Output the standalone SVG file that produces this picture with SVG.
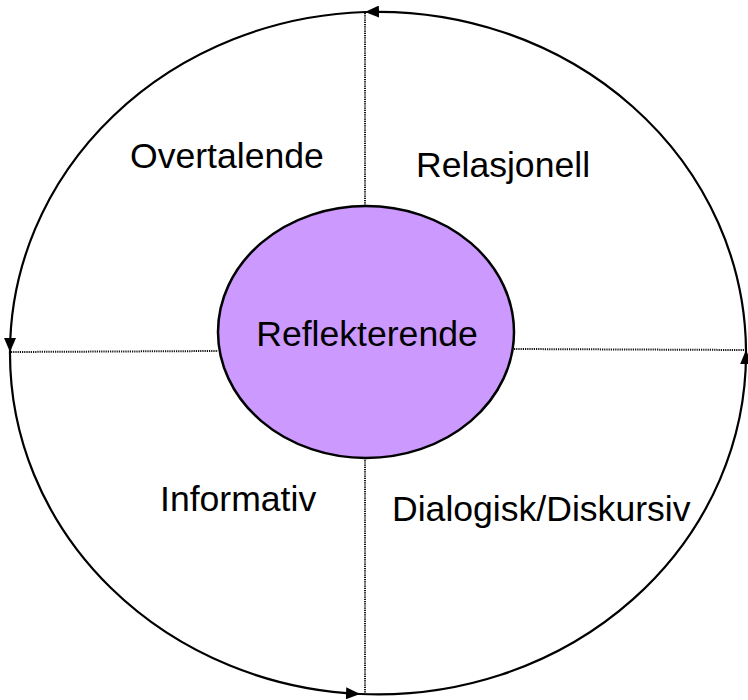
<svg xmlns="http://www.w3.org/2000/svg" width="748" height="700" viewBox="0 0 748 700">
  <style>
    .lbl { font-family: "Liberation Sans", Arial, sans-serif; font-size: 35.6px; fill: #000; }
    .arc { fill: none; stroke: #000; stroke-width: 2.2; marker-end: url(#head); }
    .div { stroke: #111; stroke-width: 2; stroke-dasharray: 1.2 1; fill: none; }
  </style>
  <defs>
    <marker id="head" viewBox="0 0 14 12" refX="14" refY="6" markerWidth="14" markerHeight="12" markerUnits="userSpaceOnUse" orient="auto">
      <path d="M0,0 L14,6 L0,12 Z" fill="#000"/>
    </marker>
  </defs>
  <rect width="748" height="700" fill="#fff"/>

  <!-- dotted dividers between the inner ellipse and the outer ring -->
  <g id="connectors">
    <line class="div" x1="365" y1="13" x2="365" y2="206"/>
    <line class="div" x1="365" y1="458" x2="365" y2="693"/>
    <line class="div" x1="11" y1="352" x2="218" y2="351"/>
    <line class="div" x1="514" y1="349" x2="746" y2="350"/>
  </g>

  <!-- outer ring: four counter-clockwise arcs, each ending in an arrowhead -->
  <g id="ring">
    <path class="arc" d="M746,350 A368,341 0 0,0 365,12"/>
    <path class="arc" d="M365,12 A368,341 0 0,0 10,352"/>
    <path class="arc" d="M10,352 A368,341 0 0,0 360,694"/>
    <path class="arc" d="M360,694 A368,341 0 0,0 746,350"/>
  </g>

  <g id="center">
    <ellipse cx="366" cy="332" rx="148" ry="126" fill="#CC99FF" stroke="#000" stroke-width="2.5"/>
    <text class="lbl" x="367" y="346" text-anchor="middle">Reflekterende</text>
  </g>

  <g id="overtalende">
    <text class="lbl" x="130" y="168">Overtalende</text>
  </g>
  <g id="relasjonell">
    <text class="lbl" x="416" y="177">Relasjonell</text>
  </g>
  <g id="informativ">
    <text class="lbl" x="160" y="511">Informativ</text>
  </g>
  <g id="dialogisk">
    <text class="lbl" x="392" y="521">Dialogisk/Diskursiv</text>
  </g>
</svg>
